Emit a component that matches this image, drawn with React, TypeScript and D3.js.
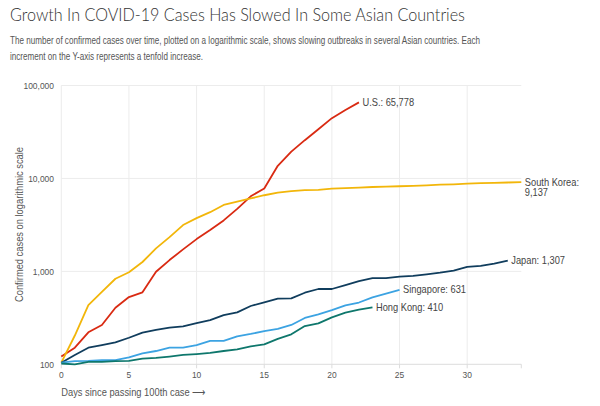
import React from "react";
import * as d3 from "d3";

const days = d3.range(0, 35);
const usValues = [121, 151, 221, 265, 406, 529, 595, 990, 1323, 1724, 2224, 2780, 3535, 4700, 6421, 7800, 13680, 19400, 25800, 33800, 44500, 54500, 65778];
const koreaValues = [104, 204, 433, 602, 833, 977, 1261, 1766, 2337, 3150, 3736, 4335, 5186, 5621, 6088, 6593, 7041, 7314, 7478, 7513, 7755, 7869, 7979, 8086, 8162, 8236, 8320, 8413, 8565, 8652, 8799, 8897, 8961, 9037, 9137];
const japanValues = [104, 126, 151, 161, 172, 193, 219, 234, 248, 256, 278, 299, 338, 362, 424, 465, 508, 513, 589, 646, 646, 713, 787, 845, 845, 880, 895, 930, 970, 1020, 1115, 1145, 1210, 1307];
const singaporeValues = [104, 108, 109, 111, 111, 119, 131, 139, 151, 151, 161, 179, 179, 200, 212, 228, 241, 265, 315, 345, 383, 431, 462, 525, 575, 631];
const hongKongValues = [102, 100, 106, 106, 108, 109, 115, 117, 121, 126, 129, 133, 139, 145, 156, 164, 188, 210, 258, 276, 320, 359, 387, 410];

const seriesNames = ["U.S.", "South Korea", "Japan", "Singapore", "Hong Kong"];
const seriesData = [usValues, koreaValues, japanValues, singaporeValues, hongKongValues];
const seriesColors = ["#d92a12", "#f2b60a", "#103d5d", "#3ca3e2", "#0e776c"];

const yTicks = [100, 1000, 10000, 100000];
const xTicks = [0, 5, 10, 15, 20, 25, 30];

const title = "Growth In COVID-19 Cases Has Slowed In Some Asian Countries";
const subtitle1 = "The number of confirmed cases over time, plotted on a logarithmic scale, shows slowing outbreaks in several Asian countries. Each";
const subtitle2 = "increment on the Y-axis represents a tenfold increase.";
const xTitle = "Days since passing 100th case \u27F6";
const yTitle = "Confirmed cases on logarithmic scale";

const SANS = "'Liberation Sans', Arial, sans-serif";

export default function App() {
  const W = 600, H = 406;
  const x = d3.scaleLinear().domain([0, 34]).range([61.3, 521.3]);
  const y = d3.scaleLog().domain([100, 100000]).range([364.3, 85.5]);
  const line = d3.line<number>().x((_, i) => x(days[i])).y((v) => y(v));
  const fmt = d3.format(",");

  return (
    <svg width={W} height={H} style={{ position: "absolute", left: 0, top: 0, background: "#fff" }}>
      <rect width={W} height={H} fill="#fff" />
      <text x={10} y={20.5} fontFamily="Lato, 'Open Sans', sans-serif" fontWeight={300} fontSize={18} fill="#333" textLength={455} lengthAdjust="spacingAndGlyphs">{title}</text>
      <text x={10} y={44} fontFamily={SANS} fontSize={10.5} fill="#555" textLength={470} lengthAdjust="spacingAndGlyphs">{subtitle1}</text>
      <text x={10} y={59.5} fontFamily={SANS} fontSize={10.5} fill="#555" textLength={193} lengthAdjust="spacingAndGlyphs">{subtitle2}</text>

      {/* grid */}
      {yTicks.filter((t) => t > 100).map((t) => (
        <line key={"gy" + t} x1={x(0)} x2={x(34)} y1={y(t)} y2={y(t)} stroke="#ececec" strokeWidth={1} />
      ))}
      {xTicks.map((t) => (
        <line key={"gx" + t} x1={x(t)} x2={x(t)} y1={y(100000)} y2={y(100)} stroke="#ececec" strokeWidth={1} />
      ))}
      {/* x axis */}
      <line x1={x(0)} x2={x(34)} y1={y(100)} y2={y(100)} stroke="#dcdcdc" strokeWidth={1} />
      {xTicks.concat([34]).map((t) => (
        <line key={"tk" + t} x1={x(t)} x2={x(t)} y1={y(100)} y2={y(100) + 4} stroke="#dcdcdc" strokeWidth={1} />
      ))}
      {xTicks.map((t) => (
        <text key={"xl" + t} transform={`translate(${x(t)},${377.5}) scale(0.89,1)`} textAnchor="middle" fontFamily={SANS} fontSize={9.5} fill="#555">{t}</text>
      ))}
      {yTicks.map((t) => (
        <text key={"yl" + t} transform={`translate(54,${y(t) + 3.3}) scale(0.89,1)`} textAnchor="end" fontFamily={SANS} fontSize={9.5} fill="#555">{fmt(t)}</text>
      ))}
      <text x={61.3} y={396} fontFamily={SANS} fontSize={10} fill="#555" textLength={144} lengthAdjust="spacingAndGlyphs">{xTitle}</text>
      <text transform="translate(23,224.5) rotate(-90)" textAnchor="middle" fontFamily={SANS} fontSize={10} fill="#555" textLength={155} lengthAdjust="spacingAndGlyphs">{yTitle}</text>

      {/* lines */}
      {seriesData.map((vals, i) => (
        <path key={"s" + i} d={line(vals) || ""} fill="none" stroke={seriesColors[i]} strokeWidth={1.8} strokeLinejoin="round" />
      ))}

      {/* end labels */}
      {seriesData.map((vals, i) => {
        const last = vals.length - 1;
        const lx = x(days[last]) + 3.5;
        const ly = y(vals[last]);
        if (seriesNames[i] === "South Korea") {
          return (
            <g key={"lab" + i} transform={`translate(${lx},${ly + 3.5}) scale(0.885,1)`}>
              <text fontFamily={SANS} fontSize={10.5} fill="#444">{seriesNames[i] + ":"}</text>
              <text y={10.5} fontFamily={SANS} fontSize={10.5} fill="#444">{fmt(vals[last])}</text>
            </g>
          );
        }
        return (
          <text key={"lab" + i} transform={`translate(${lx},${ly + 3.5}) scale(0.885,1)`} fontFamily={SANS} fontSize={10.5} fill="#444">
            {`${seriesNames[i]}: ${fmt(vals[last])}`}
          </text>
        );
      })}
    </svg>
  );
}
